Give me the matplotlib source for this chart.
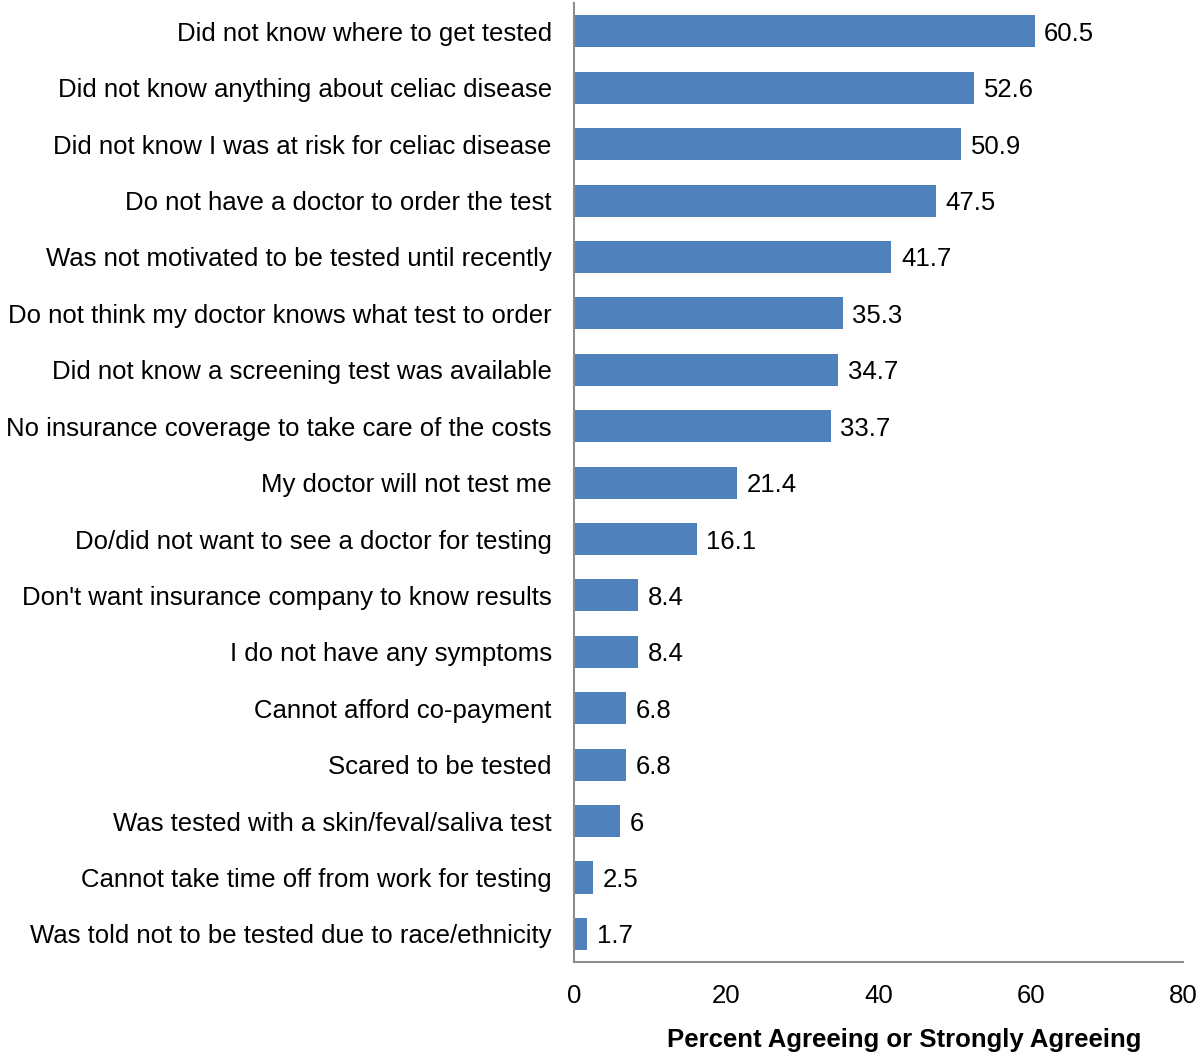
import matplotlib.pyplot as plt

plt.rcParams['font.family'] = ['Liberation Sans', 'DejaVu Sans']

reasons = [
    "Did not know where to get tested",
    "Did not know anything about celiac disease",
    "Did not know I was at risk for celiac disease",
    "Do not have a doctor to order the test",
    "Was not motivated to be tested until recently",
    "Do not think my doctor knows what test to order",
    "Did not know a screening test was available",
    "No insurance coverage to take care of the costs",
    "My doctor will not test me",
    "Do/did not want to see a doctor for testing",
    "Don't want insurance company to know results",
    "I do not have any symptoms",
    "Cannot afford co-payment",
    "Scared to be tested",
    "Was tested with a skin/feval/saliva test",
    "Cannot take time off from work for testing",
    "Was told not to be tested due to race/ethnicity",
]
percent = [60.5, 52.6, 50.9, 47.5, 41.7, 35.3, 34.7, 33.7, 21.4, 16.1,
           8.4, 8.4, 6.8, 6.8, 6, 2.5, 1.7]
xticks = [0, 20, 40, 60, 80]

fig = plt.figure(figsize=(12, 10.58), dpi=100)
ax = fig.add_axes([0.4783, 0.0907, 0.5075, 0.9063])

ypos = list(range(len(reasons)))
bars = ax.barh(ypos, percent, height=0.57, color="#4F81BD")
anns = ax.bar_label(bars, labels=[f"{v:g}" for v in percent], padding=7, fontsize=18.5)
for a in anns:
    a.set_verticalalignment("center_baseline")

ax.set_ylim(len(reasons) - 0.5, -0.5)
ax.set_xlim(0, 80)
ax.set_yticks(ypos)
ax.set_yticklabels(reasons, fontsize=18.5)
ax.set_xticks(xticks)
ax.set_xticklabels([str(t) for t in xticks], fontsize=18.5)
ax.tick_params(axis="both", length=0)
ax.tick_params(axis="x", pad=15.5)
ax.tick_params(axis="y", pad=16)
for t in ax.get_yticklabels():
    t.set_verticalalignment("center_baseline")

for s in ["top", "right"]:
    ax.spines[s].set_visible(False)
for s in ["left", "bottom"]:
    ax.spines[s].set_color("#8c8c8c")
    ax.spines[s].set_linewidth(1.5)

fig.text(904 / 1200, 1 - 1040 / 1058, "Percent Agreeing or Strongly Agreeing",
         ha="center", va="center", fontsize=18.5, fontweight="bold")

fig.savefig("out.png", dpi=100)
